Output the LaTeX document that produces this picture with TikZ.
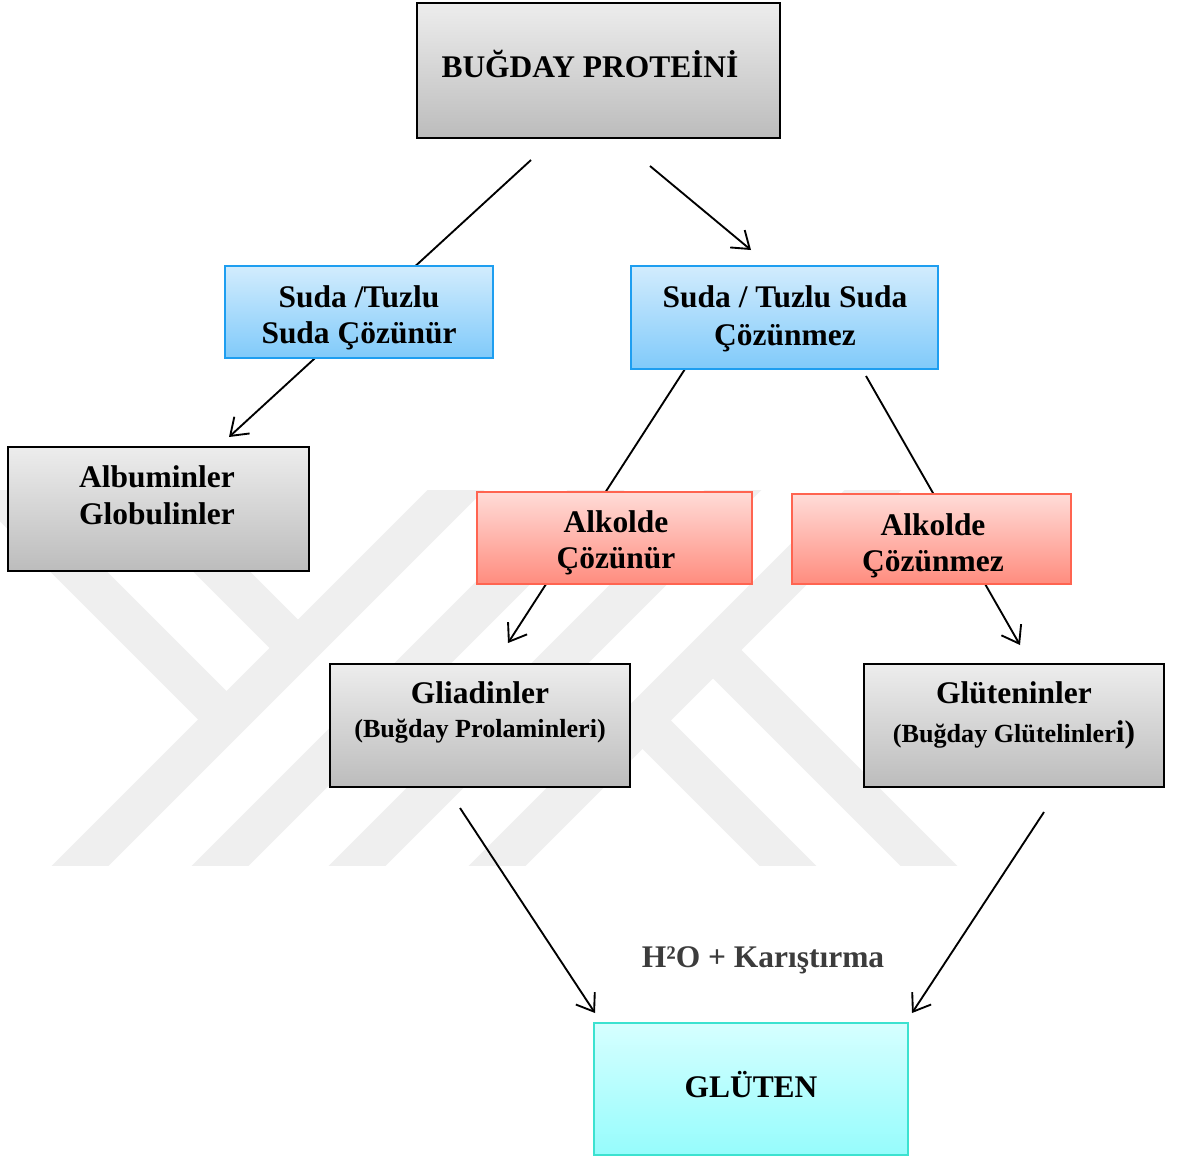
\documentclass[tikz,border=0pt]{standalone}
\usepackage{fontspec}
\setmainfont{Liberation Serif}
\usetikzlibrary{arrows.meta}

\definecolor{wmgray}{RGB}{239,239,239}
\definecolor{grayTop}{RGB}{237,237,237}
\definecolor{grayBot}{RGB}{188,188,188}
\definecolor{blueTop}{RGB}{210,236,253}
\definecolor{blueBot}{RGB}{128,202,250}
\definecolor{blueEdge}{RGB}{30,158,240}
\definecolor{redTop}{RGB}{255,220,216}
\definecolor{redBot}{RGB}{255,140,126}
\definecolor{redEdge}{RGB}{255,100,80}
\definecolor{cyanTop}{RGB}{214,255,255}
\definecolor{cyanBot}{RGB}{150,252,252}
\definecolor{cyanEdge}{RGB}{60,226,208}
\definecolor{noteGray}{RGB}{60,60,60}

\pgfdeclarelayer{marklayer}
\pgfdeclarelayer{linklayer}
\pgfsetlayers{marklayer,linklayer,main}

\tikzset{
  box/.style={inner sep=0pt, outer sep=0pt, line width=1.5pt},
  sz/.style 2 args={minimum width=#1*0.75pt, minimum height=#2*0.75pt},
  graybox/.style={box, draw=black, top color=grayTop, bottom color=grayBot},
  bluebox/.style={box, draw=blueEdge, top color=blueTop, bottom color=blueBot},
  redbox/.style={box, draw=redEdge, top color=redTop, bottom color=redBot},
  cyanbox/.style={box, draw=cyanEdge, top color=cyanTop, bottom color=cyanBot},
  lbl/.style={inner sep=0pt, anchor=base, font=\bfseries\fontsize{23.6}{28}\selectfont},
  sublbl/.style={inner sep=0pt, anchor=base, font=\bfseries\fontsize{19.6}{24}\selectfont},
  link/.style={line width=1.4pt, draw=black},
  arr/.style={link, -{Straight Barb[length=12pt,width=17pt,line width=1.4pt]}},
  band/.style={draw=wmgray, line width=30pt, line cap=butt},
}

\begin{document}
\begin{tikzpicture}[x=0.75pt,y=-0.75pt]
\useasboundingbox (0,0) rectangle (1181,1158);

% white page and faint background emblem
\begin{pgfonlayer}{marklayer}
\fill[white] (0,0) rectangle (1181,1158);
\begin{scope}
  \clip (0,490) rectangle (1000,865);
  \draw[band] (63,883) -- (493,453);
  \draw[band] (203,883) -- (633,453);
  \draw[band] (340,883) -- (770,453);
  \draw[band] (480,883) -- (910,453);
  \draw[band] (120,470) -- (300,650);
  \draw[band] (-23,470) -- (228,721);
  \draw[band] (713,650) -- (946,883);
  \draw[band] (642,720) -- (805,883);
\end{scope}
\end{pgfonlayer}

% boxes
\node[graybox, sz={363}{135}] (bp)    at (598.5,70.5) {};
\node[bluebox, sz={268}{92}]  (sudaL) at (359,312) {};
\node[bluebox, sz={307}{103}] (sudaR) at (784.5,317.5) {};
\node[graybox, sz={301}{124}] (alb)   at (158.5,509) {};
\node[redbox,  sz={275}{92}]  (alkL)  at (614.5,538) {};
\node[redbox,  sz={279}{90}]  (alkR)  at (931.5,539) {};
\node[graybox, sz={300}{123}] (gli)   at (480,725.5) {};
\node[graybox, sz={300}{123}] (glu)   at (1014,725.5) {};
\node[cyanbox, sz={314}{132}] (glt)   at (751,1089) {};

% box texts
\node[lbl] (bpT)  at (590,77)  {BUĞDAY PROTEİNİ};
\node[lbl] (sLa)  at (359,307) {Suda /Tuzlu};
\node[lbl] (sLb)  at (359,343) {Suda Çözünür};
\node[lbl] (sRa)  at (785,307) {Suda / Tuzlu Suda};
\node[lbl] (sRb)  at (785,345) {Çözünmez};
\node[lbl] (albA) at (157,487) {Albuminler};
\node[lbl] (albB) at (157,524) {Globulinler};
\node[lbl] (aLa)  at (616,532) {Alkolde};
\node[lbl] (aLb)  at (616,568) {Çözünür};
\node[lbl] (aRa)  at (933,535) {Alkolde};
\node[lbl] (aRb)  at (933,571) {Çözünmez};
\node[lbl] (gliA) at (480,703) {Gliadinler};
\node[sublbl] (gliB) at (480,737) {(Buğday Prolaminleri)};
\node[lbl] (gluA) at (1014,703) {Glüteninler};
\node[sublbl] (gluB) at (1014,742) {(Buğday Glütelinler{\fontsize{23.6}{28}\selectfont i)}};
\node[lbl] (gltT) at (751,1097) {GLÜTEN};
\node[lbl, text=noteGray] (h2o) at (763,967) {H²O + Karıştırma};

% connector end points
\coordinate (c1) at (531,160);   \coordinate (c2) at (229,437);
\coordinate (c3) at (650,166);   \coordinate (c4) at (751,250);
\coordinate (c5) at (685,369);   \coordinate (c6) at (508,643);
\coordinate (c7) at (866,376);   \coordinate (c8) at (1020,645);
\coordinate (c9) at (460,808);   \coordinate (c10) at (595,1013);
\coordinate (c11) at (1044,812); \coordinate (c12) at (912,1013);

% connectors (run behind the boxes they cross)
\begin{pgfonlayer}{linklayer}
  \draw[arr] (c1) -- (c2);
  \draw[arr] (c3) -- (c4);
  \draw[arr] (c5) -- (c6);
  \draw[arr] (c7) -- (c8);
  \draw[arr] (c9) -- (c10);
  \draw[arr] (c11) -- (c12);
\end{pgfonlayer}
\end{tikzpicture}
\end{document}
